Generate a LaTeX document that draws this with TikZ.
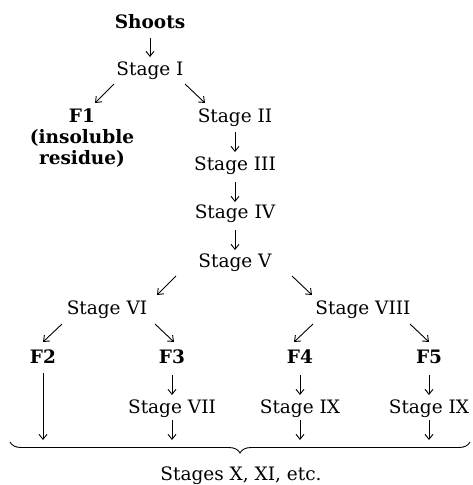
\documentclass[tikz,border=0pt]{standalone}
\usepackage{fontspec}
\setmainfont{DejaVu Serif}
\usepackage{tikz}
\usetikzlibrary{arrows.meta,decorations.pathreplacing}

\begin{document}
\begin{tikzpicture}[
      x=1pt, y=-1pt,
      lbl/.style={inner sep=0pt, font=\fontsize{18.5}{21}\selectfont},
      stage/.style={lbl},
      frac/.style={lbl, font=\fontsize{18.5}{21}\selectfont\bfseries, align=center},
      arr/.style={-{Straight Barb[length=5pt,width=8pt]}, line width=0.9pt},
      brc/.style={decorate, decoration={brace, mirror, amplitude=11pt}, line width=0.9pt}
    ]
    \useasboundingbox (0,0) rectangle (472,485);

    % main line of the extraction
    \node[frac]  (shoots) at (150,22)  {Shoots};
    \node[stage] (st1)    at (150,71)  {Stage I};
    \node[frac, anchor=north] (f1) at (82,109) {F1\\(insoluble\\residue)};
    \node[stage] (st2)    at (235,118) {Stage II};
    \node[stage] (st3)    at (235,166) {Stage III};
    \node[stage] (st4)    at (235,214) {Stage IV};
    \node[stage] (st5)    at (235,263) {Stage V};
    \node[stage] (st6)    at (107,310) {Stage VI};
    \node[stage] (st8)    at (363,310) {Stage VIII};

    % fractions
    \node[frac] (f2) at (43,357)  {F2};
    \node[frac] (f3) at (172,357) {F3};
    \node[frac] (f4) at (300,357) {F4};
    \node[frac] (f5) at (429,357) {F5};

    \node[stage] (st7)  at (172,409) {Stage VII};
    \node[stage] (st9a) at (300,409) {Stage IX};
    \node[stage] (st9b) at (429,409) {Stage IX};

    \coordinate (bl) at (10,442);
    \coordinate (br) at (470,442);
    \node[stage] (last) at (241,476) {Stages X, XI, etc.};

    \draw[arr] ([shift={(0,16)}]shoots.center) -- ([shift={(0,-14)}]st1.center);
    \draw[arr] ([shift={(-36,13)}]st1.center) -- ([shift={(13,-6)}]f1.north);
    \draw[arr] ([shift={(35,13)}]st1.center) -- ([shift={(-30,-15)}]st2.center);
    \draw[arr] ([shift={(0,14)}]st2.center) -- ([shift={(0,-14)}]st3.center);
    \draw[arr] ([shift={(0,16)}]st3.center) -- ([shift={(0,-12)}]st4.center);
    \draw[arr] ([shift={(0,16)}]st4.center) -- ([shift={(0,-13)}]st5.center);
    \draw[arr] ([shift={(-59,13)}]st5.center) -- ([shift={(50,-15)}]st6.center);
    \draw[arr] ([shift={(57,13)}]st5.center) -- ([shift={(-51,-15)}]st8.center);

    \draw[arr] ([shift={(-45,14)}]st6.center) -- ([shift={(0,-15)}]f2.center);
    \draw[arr] ([shift={(48,14)}]st6.center) -- ([shift={(2,-15)}]f3.center);
    \draw[arr] ([shift={(-50,14)}]st8.center) -- ([shift={(-6,-15)}]f4.center);
    \draw[arr] ([shift={(47,14)}]st8.center) -- ([shift={(0,-15)}]f5.center);

    \draw[arr] ([shift={(0,16)}]f2.center) -- ([shift={(0,83)}]f2.center);
    \draw[arr] ([shift={(0,18)}]f3.center) -- ([shift={(0,-14)}]st7.center);
    \draw[arr] ([shift={(0,18)}]f4.center) -- ([shift={(0,-14)}]st9a.center);
    \draw[arr] ([shift={(0,18)}]f5.center) -- ([shift={(0,-14)}]st9b.center);
    \draw[arr] ([shift={(0,11)}]st7.center) -- ([shift={(0,31)}]st7.center);
    \draw[arr] ([shift={(0,11)}]st9a.center) -- ([shift={(0,31)}]st9a.center);
    \draw[arr] ([shift={(0,11)}]st9b.center) -- ([shift={(0,31)}]st9b.center);

    % everything below gathers into the later stages
    \draw[brc] (bl) -- (br);
  \end{tikzpicture}
\end{document}
